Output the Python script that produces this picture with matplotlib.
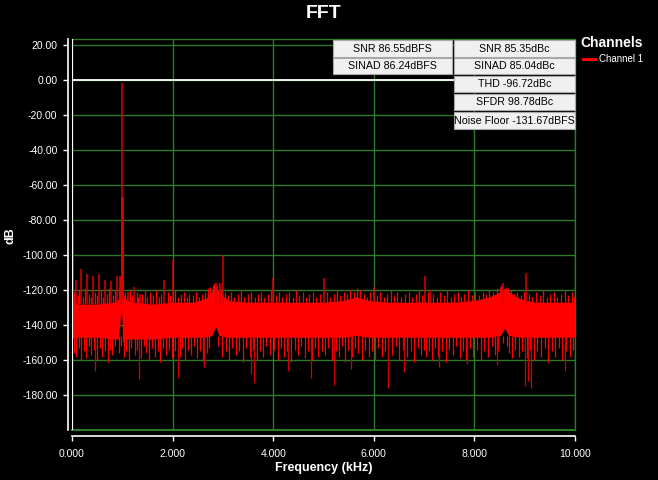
import matplotlib
matplotlib.use("Agg")
import matplotlib.pyplot as plt
from matplotlib.patches import Rectangle
from matplotlib.lines import Line2D

plt.rcParams['font.family'] = ['Liberation Sans', 'DejaVu Sans']

# ---------------- data ----------------
# noise band envelope (kHz, dB)
env_freq = [0.00, 0.03, 0.10, 0.50, 0.85, 0.92, 0.95, 0.975, 0.99, 1.005, 1.05, 1.20,
            1.60, 2.00, 2.40, 2.65, 2.78, 2.86, 2.92, 3.10, 3.50, 4.00, 4.50, 5.00,
            5.40, 5.65, 5.90, 6.30, 6.80, 7.20, 7.60, 8.00, 8.30, 8.52, 8.60, 8.68,
            8.90, 9.20, 9.60, 10.00]
env_top = [-113, -126, -128, -128, -127, -125, -123, -120, -118, -120, -125, -127,
           -128, -127, -127, -125, -121, -118, -121, -126, -127, -127, -127, -127,
           -126, -124, -126, -127, -127, -127, -127, -126, -124, -121, -119, -121,
           -125, -127, -127, -127]
env_bot = [-148, -147, -147, -147, -148, -148, -140, -131, -135, -150, -148, -148,
           -148, -147, -147, -147, -146, -141, -146, -147, -147, -147, -147, -147,
           -147, -146, -147, -147, -147, -147, -147, -147, -147, -146, -142, -146,
           -147, -147, -147, -147]

# tone, harmonics and spurs (kHz, peak dB)
peak_spikes = [(0.02, -82), (0.07, -114), (0.17, -108), (0.30, -111), (0.42, -112),
               (0.54, -111), (0.66, -114), (0.78, -115), (0.89, -112), (0.95, -112),
               (0.98, -112), (0.99, -90), (0.995, -67), (1.00, -1.5), (1.005, -67),
               (1.01, -90), (1.02, -112), (1.12, -121), (1.24, -118), (1.35, -122),
               (1.83, -114), (2.00, -103), (2.86, -116), (2.94, -116), (3.00, -100),
               (3.99, -113), (5.00, -113), (6.00, -118), (7.02, -112), (7.12, -120),
               (8.57, -116), (9.03, -110)]

# small spikes on the top edge of the noise band (kHz, dB)
up_fuzz = [
    (0.04, -121), (0.11, -123), (0.14, -120), (0.21, -124), (0.25, -119), (0.34, -122),
    (0.37, -124), (0.46, -121), (0.50, -123), (0.58, -120), (0.62, -124), (0.70, -122),
    (0.74, -119), (0.82, -123), (0.86, -120), (0.93, -118),
    (1.06, -121), (1.09, -124), (1.16, -120), (1.20, -123), (1.29, -121), (1.32, -124),
    (1.40, -122), (1.45, -120), (1.50, -124), (1.56, -121), (1.62, -123), (1.67, -120),
    (1.72, -124), (1.77, -122), (1.90, -121), (1.95, -123),
    (2.05, -120), (2.10, -124), (2.16, -122), (2.22, -121), (2.28, -124), (2.33, -122),
    (2.40, -123), (2.46, -121), (2.52, -124), (2.58, -122), (2.64, -121), (2.70, -119),
    (2.75, -118), (2.80, -117), (2.83, -116), (2.89, -117), (2.96, -119),
    (3.05, -121), (3.10, -123), (3.16, -121), (3.22, -124), (3.30, -122), (3.36, -120),
    (3.42, -124), (3.50, -122), (3.56, -121), (3.63, -124), (3.70, -122), (3.76, -121),
    (3.82, -124), (3.90, -122), (3.95, -120),
    (4.05, -123), (4.12, -121), (4.18, -124), (4.25, -122), (4.32, -121), (4.40, -124),
    (4.46, -120), (4.52, -123), (4.60, -121), (4.66, -124), (4.72, -122), (4.80, -121),
    (4.86, -124), (4.93, -122),
    (5.06, -121), (5.12, -124), (5.20, -122), (5.27, -120), (5.33, -123), (5.40, -121),
    (5.46, -122), (5.52, -120), (5.60, -121), (5.66, -119), (5.72, -120), (5.80, -122),
    (5.86, -124), (5.93, -121),
    (6.06, -123), (6.12, -121), (6.20, -124), (6.26, -122), (6.34, -120), (6.40, -123),
    (6.47, -121), (6.55, -124), (6.62, -122), (6.70, -121), (6.76, -124), (6.83, -122),
    (6.90, -120), (6.96, -123),
    (7.07, -121), (7.18, -122), (7.25, -124), (7.32, -121), (7.40, -123), (7.46, -120),
    (7.53, -124), (7.60, -122), (7.67, -121), (7.74, -124), (7.80, -122), (7.88, -120),
    (7.95, -123),
    (8.02, -121), (8.10, -123), (8.17, -121), (8.24, -122), (8.30, -120), (8.37, -121),
    (8.44, -119), (8.50, -118), (8.53, -117), (8.62, -118), (8.66, -119), (8.72, -120),
    (8.78, -122), (8.85, -121), (8.92, -123), (8.98, -121),
    (9.08, -122), (9.15, -124), (9.22, -121), (9.30, -123), (9.37, -120), (9.44, -124),
    (9.50, -122), (9.58, -121), (9.65, -124), (9.72, -122), (9.80, -120), (9.87, -123),
    (9.94, -121), (9.99, -124),
]

# small dips below the noise band (kHz, dB)
down_fuzz = [
    (0.03, -156), (0.08, -158), (0.13, -153), (0.18, -160), (0.23, -155), (0.28, -159),
    (0.33, -152), (0.38, -157), (0.43, -154), (0.49, -160), (0.55, -153), (0.60, -158),
    (0.65, -155), (0.71, -161), (0.76, -154), (0.80, -157), (0.85, -152), (0.94, -156),
    (0.97, -152), (1.04, -158), (1.08, -155), (1.14, -160), (1.18, -153), (1.26, -157),
    (1.30, -154), (1.38, -159), (1.43, -152), (1.48, -156), (1.54, -160), (1.59, -153),
    (1.65, -158), (1.70, -155), (1.75, -161), (1.80, -153), (1.86, -157), (1.93, -154),
    (1.98, -159),
    (2.04, -155), (2.14, -158), (2.19, -153), (2.25, -160), (2.31, -154), (2.36, -157),
    (2.43, -152), (2.49, -159), (2.55, -155), (2.60, -161), (2.68, -156), (2.73, -153),
    (2.91, -152), (2.99, -158), (3.07, -155), (3.13, -160), (3.19, -153), (3.26, -157),
    (3.33, -155), (3.39, -161), (3.45, -153), (3.53, -158), (3.59, -154), (3.67, -160),
    (3.73, -155), (3.79, -158), (3.86, -152), (3.93, -157),
    (4.02, -154), (4.09, -160), (4.15, -153), (4.21, -158), (4.28, -155), (4.36, -161),
    (4.43, -154), (4.49, -157), (4.56, -152), (4.63, -159), (4.69, -155), (4.77, -160),
    (4.83, -153), (4.90, -158), (4.97, -155),
    (5.03, -157), (5.09, -153), (5.16, -160), (5.24, -155), (5.30, -158), (5.37, -152),
    (5.43, -161), (5.49, -154), (5.57, -158), (5.63, -153), (5.69, -156), (5.76, -160),
    (5.83, -154), (5.90, -158), (5.97, -155),
    (6.03, -160), (6.09, -153), (6.16, -158), (6.23, -155), (6.37, -157), (6.44, -152),
    (6.51, -160), (6.58, -154), (6.66, -158), (6.73, -155), (6.80, -161), (6.87, -153),
    (6.93, -157), (6.99, -154),
    (7.04, -158), (7.10, -155), (7.15, -160), (7.22, -153), (7.28, -158), (7.35, -155),
    (7.43, -161), (7.50, -154), (7.57, -157), (7.64, -152), (7.71, -159), (7.77, -155),
    (7.83, -160), (7.91, -153), (7.98, -158),
    (8.05, -154), (8.13, -160), (8.20, -155), (8.27, -158), (8.34, -152), (8.41, -157),
    (8.47, -155), (8.56, -150), (8.64, -152), (8.69, -156), (8.75, -159), (8.81, -154),
    (8.88, -158), (8.95, -155),
    (9.05, -159), (9.11, -154), (9.18, -160), (9.25, -155), (9.33, -158), (9.40, -153),
    (9.47, -161), (9.54, -155), (9.61, -158), (9.68, -153), (9.75, -160), (9.83, -155),
    (9.90, -158), (9.97, -154),
]

# deep dips (kHz, dB)
deep_dips = [(0.46, -166), (1.33, -171), (2.10, -170), (2.62, -164), (3.55, -168),
             (3.62, -173), (4.30, -166), (4.75, -170), (5.20, -174), (5.55, -165),
             (6.29, -176), (6.60, -167), (7.30, -164), (7.85, -162), (8.45, -163),
             (9.00, -175), (9.07, -172), (9.13, -176), (9.80, -166)]

stats_left = ["SNR 86.55dBFS", "SINAD 86.24dBFS"]
stats_right = ["SNR 85.35dBc", "SINAD 85.04dBc", "THD -96.72dBc", "SFDR 98.78dBc",
               "Noise Floor -131.67dBFS"]
y_ticks = [20, 0, -20, -40, -60, -80, -100, -120, -140, -160, -180]
x_ticks = [0, 2, 4, 6, 8, 10]
legend_label = "Channel 1"

# ---------------- figure ----------------
W, H = 658, 480
PT = 72.0 / 100.0  # points per pixel
RED = '#ff0000'
GREEN = '#2b7a2b'

fig = plt.figure(figsize=(W / 100, H / 100), dpi=100, facecolor='black')
ax = fig.add_axes([72 / W, 50 / H, 503 / W, 391 / H])
ax.set_facecolor('black')
ax.set_xlim(0, 10)
ax.set_ylim(-200, 23.43)

# noise band
ax.fill_between(env_freq, env_bot, env_top, color=RED, lw=0, zorder=3)
# fuzz
ax.vlines([f for f, v in up_fuzz], -128, [v for f, v in up_fuzz], color=RED, lw=0.9, zorder=3)
ax.vlines([f for f, v in down_fuzz], -146, [v for f, v in down_fuzz], color=RED, lw=0.9, zorder=3)
ax.vlines([f for f, v in deep_dips], -146, [v for f, v in deep_dips], color='#d00000', lw=0.9, zorder=3)
ax.vlines([f for f, v in peak_spikes], -128, [v for f, v in peak_spikes], color='#e00000', lw=1.1, zorder=3)

# grid
ax.set_xticks(x_ticks)
ax.set_yticks(y_ticks)
ax.set_xticklabels(['%.3f' % t for t in x_ticks])
ax.set_yticklabels(['%.2f' % t for t in y_ticks])
ax.grid(True, color=GREEN, lw=1)
ax.set_axisbelow(True)
ax.axhline(-200, color=GREEN, lw=1.5, clip_on=False, zorder=1)

# white markers
ax.axhline(0, color='white', lw=1.3, zorder=2)
ax.axvline(0, color='white', lw=1.5, zorder=4)

# spines
for s in ('top', 'right'):
    ax.spines[s].set_color(GREEN)
    ax.spines[s].set_linewidth(1)
ax.spines['left'].set_color('white')
ax.spines['left'].set_linewidth(1.2)
ax.spines['left'].set_position(('outward', 4 * PT))
ax.spines['bottom'].set_color('white')
ax.spines['bottom'].set_linewidth(1.2)
ax.spines['bottom'].set_position(('outward', 6 * PT))
ax.tick_params(axis='both', colors='white', length=5 * PT, width=1, labelsize=7.5)
ax.tick_params(axis='y', pad=4)
ax.tick_params(axis='x', pad=6)

# titles
fig.text(323.5 / W, 1 - 14 / H, 'FFT', ha='center', va='center', fontsize=14,
         fontweight='bold', color='white')
fig.text(323.5 / W, 1 - 468 / H, 'Frequency (kHz)', ha='center', va='center', fontsize=9,
         fontweight='bold', color='white')
fig.text(11 / W, 1 - 236 / H, 'dB', ha='center', va='center', fontsize=9, rotation=90,
         fontweight='bold', color='white')

# legend
fig.text(580 / W, 1 - 43 / H, 'Channels', ha='left', va='center', fontsize=10,
         fontweight='bold', color='white')
fig.add_artist(Line2D([583 / W, 595 / W], [1 - 59 / H, 1 - 59 / H], color=RED, lw=2.2,
                      transform=fig.transFigure))
fig.text(599 / W, 1 - 59 / H, legend_label, ha='left', va='center', fontsize=7, color='white')

# stats table
rows_y = [(40, 57), (58, 74), (76, 92), (94, 110), (112, 129)]
cols_x = [(333, 452), (454, 575)]


def cell(x0, x1, y0, y1, txt):
    fig.add_artist(Rectangle((x0 / W, 1 - y1 / H), (x1 - x0) / W, (y1 - y0) / H,
                             transform=fig.transFigure, facecolor='#f0f0f0',
                             edgecolor='#a8a8a8', lw=0.8, zorder=5))
    fig.text((x0 + x1) / 2 / W, 1 - (y0 + y1) / 2 / H, txt, ha='center', va='center',
             fontsize=7.7, color='black', zorder=6)


for i, t in enumerate(stats_left):
    cell(cols_x[0][0], cols_x[0][1], rows_y[i][0], rows_y[i][1], t)
for i, t in enumerate(stats_right):
    cell(cols_x[1][0], cols_x[1][1], rows_y[i][0], rows_y[i][1], t)

fig.savefig('out.png', dpi=100, facecolor='black')
